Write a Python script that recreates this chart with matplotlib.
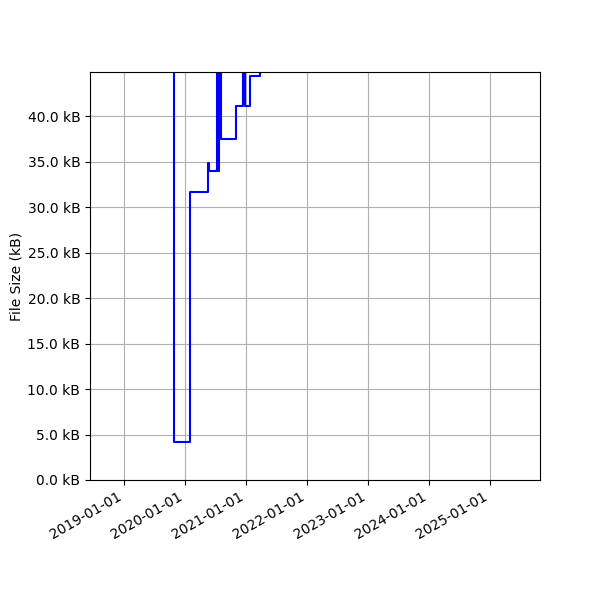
import matplotlib
matplotlib.use("Agg")
import matplotlib.pyplot as plt
import matplotlib.dates as mdates
from matplotlib.ticker import FuncFormatter
import pandas as pd

# commit dates and file sizes (kB); points above the top of the view are clipped
dates = ["2018-10-12", "2019-10-27", "2020-01-30", "2020-05-15", "2020-05-26",
         "2020-07-08", "2020-07-17", "2020-07-23", "2020-08-02", "2020-11-01",
         "2020-12-11", "2020-12-25", "2021-01-24", "2021-03-25", "2025-06-26"]
sizes = [52.0, 4.18, 31.65, 34.8, 34.0,
         55.0, 34.0, 55.0, 37.45, 41.05,
         55.0, 41.05, 44.35, 50.0, 60.0]

dates = pd.to_datetime(dates)

fig, ax = plt.subplots(figsize=(6, 6), dpi=100)

ax.plot(dates, sizes, drawstyle="steps-post", color="blue")
ax.set_ylim(0, 44.84)
ax.set_ylabel("File Size (kB)")
ax.yaxis.set_major_formatter(FuncFormatter(lambda v, p: f"{v:.1f} kB"))
ax.xaxis.set_major_locator(mdates.YearLocator())
ax.xaxis.set_major_formatter(mdates.DateFormatter("%Y-%m-%d"))
ax.grid(True)
fig.autofmt_xdate()
fig.subplots_adjust(left=0.15, right=0.9, top=0.88, bottom=0.2)
ax.yaxis.set_label_coords(-0.148, 0.5)

plt.savefig("out.png")
